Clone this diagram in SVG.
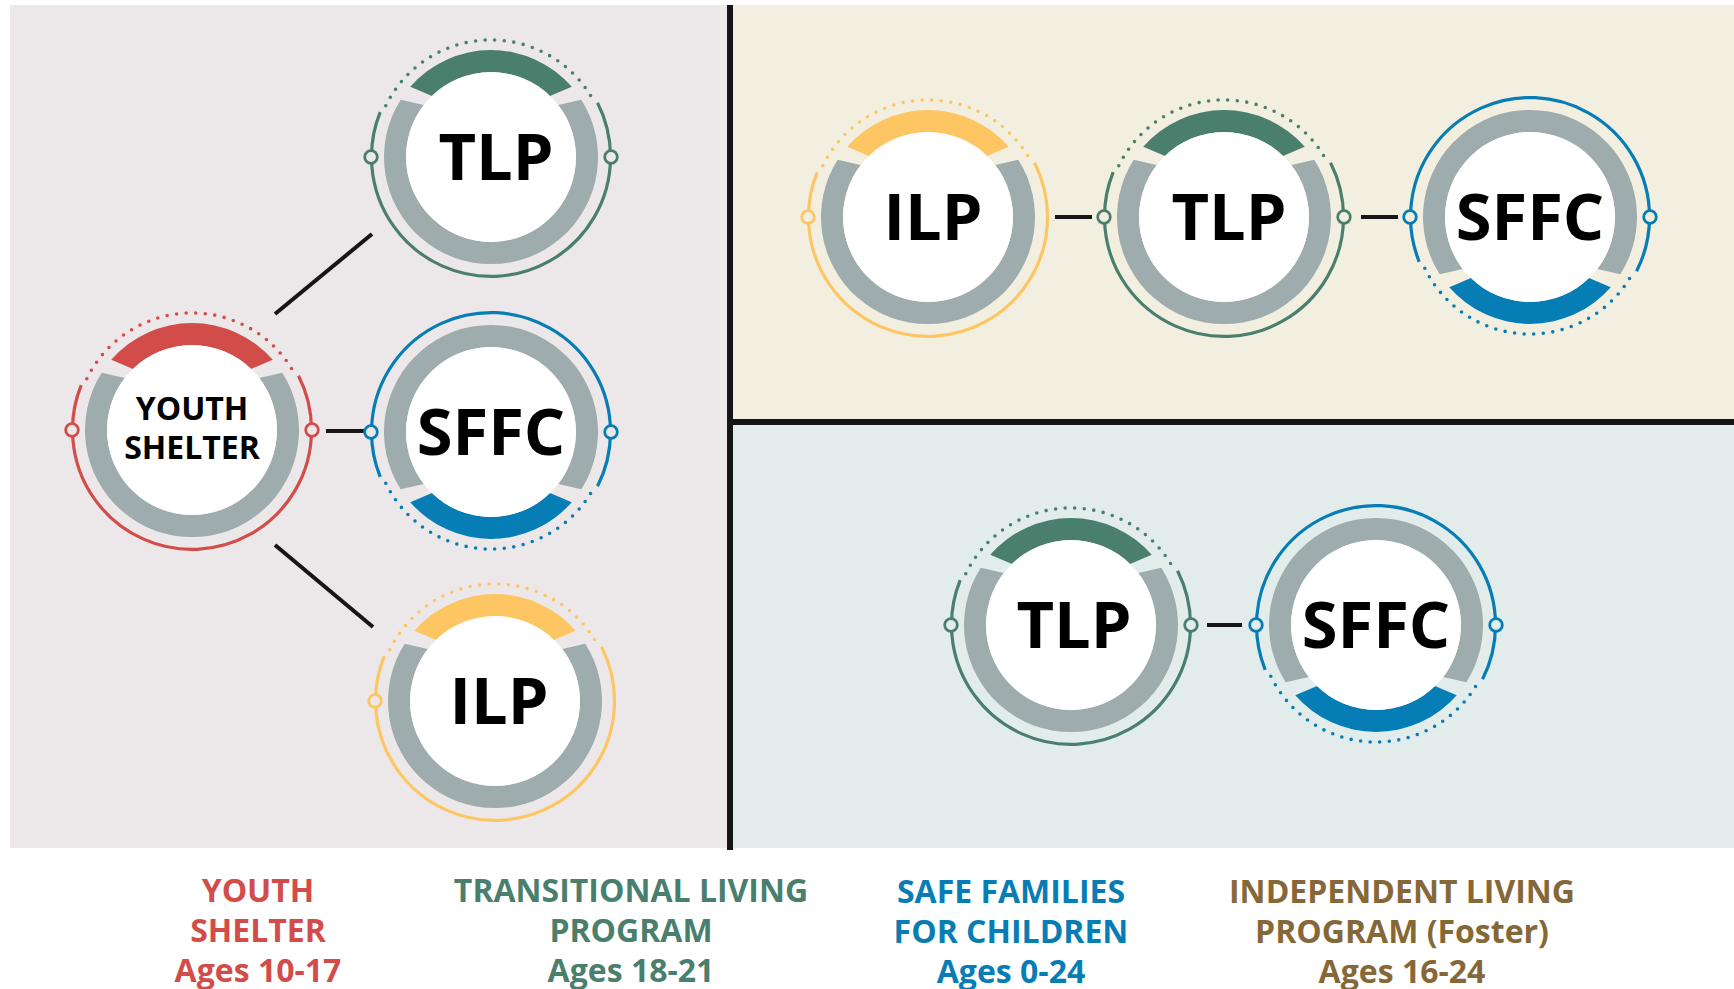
<svg xmlns="http://www.w3.org/2000/svg" xmlns:xlink="http://www.w3.org/1999/xlink" width="1734" height="989" viewBox="0 0 1734 989">
<style>
.gray{fill:#9EACAE}
.white{fill:#FFFFFF}
.solid{fill:none;stroke-width:3.2}
.dots{fill:none;stroke-width:3.6;stroke-linecap:round;stroke-dasharray:0 9.6}
.port{stroke-width:2.8}
.red{stroke:#D24D49}
.green{stroke:#4A7F6D}
.blue{stroke:#077DB5}
.yellow{stroke:#FDC663}
.fred{fill:#D24D49}
.fgreen{fill:#4A7F6D}
.fblue{fill:#077DB5}
.fyellow{fill:#FDC663}
.bgL{fill:#ECE8E9}
.bgT{fill:#F2EFE1}
.bgB{fill:#E2ECEB}
.node{font-family:"Open Sans","DejaVu Sans",sans-serif;font-weight:700;fill:#000;text-anchor:middle}
.big{font-size:65px}
.small{font-size:32px}
.conn line{stroke:#161616;stroke-width:4}
.lab{font-family:"Open Sans","DejaVu Sans",sans-serif;font-weight:700;font-size:32px;text-anchor:middle}
</style>
<defs>
<path id="arc" d="M -80.75 -70.2 A 107 107 0 0 1 80.75 -70.2 L 59 -61.1 A 85 85 0 0 0 -59 -61.1 Z"/>
<path id="grayArc" class="gray" d="M 90.3 -57.3 A 107 107 0 1 1 -90.3 -57.3 L -67.3 -52 A 85 85 0 1 0 67.3 -52 Z"/>
<circle id="core" class="white" r="85"/>
<path id="solidArc" d="M 106.5 -54.3 A 119.5 119.5 0 1 1 -110.8 -44.8"/>
<path id="dotArc" d="M -105.2 -51.3 A 117 117 0 0 1 100.3 -60.3"/>
</defs>

<g id="panels">
<rect x="10" y="5" width="717" height="843" fill="#ECE8E9"/>
<rect x="733" y="5" width="1001" height="414" fill="#F2EFE1"/>
<rect x="733" y="425" width="1001" height="423" fill="#E2ECEB"/>
<rect x="727" y="5" width="6" height="845" fill="#151515"/>
<rect x="727" y="419" width="1007" height="6" fill="#151515"/>
</g>

<g id="connectors" class="conn">
<line x1="275" y1="314" x2="372" y2="234"/>
<line x1="326" y1="431" x2="366" y2="431"/>
<line x1="275" y1="545" x2="373" y2="627"/>
<line x1="1055" y1="217" x2="1092" y2="217"/>
<line x1="1361" y1="217" x2="1398" y2="217"/>
<line x1="1207" y1="625" x2="1242" y2="625"/>
</g>

<g id="youth-shelter" transform="translate(192,430)">
<use href="#grayArc"/><use href="#arc" class="fred"/><use href="#core"/>
<use href="#solidArc" class="solid red"/><use href="#dotArc" class="dots red"/>
<circle cx="-120" cy="0" r="6.3" class="port red bgL"/><circle cx="120" cy="0" r="6.3" class="port red bgL"/>
<text class="node small" x="0" y="-10">YOUTH</text>
<text class="node small" x="0" y="29">SHELTER</text>
</g>

<g id="tlp-left" transform="translate(491,157)">
<use href="#grayArc"/><use href="#arc" class="fgreen"/><use href="#core"/>
<use href="#solidArc" class="solid green"/><use href="#dotArc" class="dots green"/>
<circle cx="-120" cy="0" r="6.3" class="port green bgL"/><circle cx="120" cy="0" r="6.3" class="port green bgL"/>
<text class="node big" x="5" y="23">TLP</text>
</g>

<g id="sffc-left" transform="translate(491,432)">
<g transform="scale(1,-1)">
<use href="#grayArc"/><use href="#arc" class="fblue"/><use href="#core"/>
<use href="#solidArc" class="solid blue"/><use href="#dotArc" class="dots blue"/>
</g>
<circle cx="-120" cy="0" r="6.3" class="port blue bgL"/><circle cx="120" cy="0" r="6.3" class="port blue bgL"/>
<text class="node big" x="0" y="23">SFFC</text>
</g>

<g id="ilp-left" transform="translate(495,701)">
<use href="#grayArc"/><use href="#arc" class="fyellow"/><use href="#core"/>
<use href="#solidArc" class="solid yellow"/><use href="#dotArc" class="dots yellow"/>
<circle cx="-120" cy="0" r="6.3" class="port yellow bgL"/>
<text class="node big" x="4" y="23">ILP</text>
</g>

<g id="ilp-top" transform="translate(928,217)">
<use href="#grayArc"/><use href="#arc" class="fyellow"/><use href="#core"/>
<use href="#solidArc" class="solid yellow"/><use href="#dotArc" class="dots yellow"/>
<circle cx="-120" cy="0" r="6.3" class="port yellow bgT"/>
<text class="node big" x="5" y="23">ILP</text>
</g>

<g id="tlp-top" transform="translate(1224,217)">
<use href="#grayArc"/><use href="#arc" class="fgreen"/><use href="#core"/>
<use href="#solidArc" class="solid green"/><use href="#dotArc" class="dots green"/>
<circle cx="-120" cy="0" r="6.3" class="port green bgT"/><circle cx="120" cy="0" r="6.3" class="port green bgT"/>
<text class="node big" x="5" y="23">TLP</text>
</g>

<g id="sffc-top" transform="translate(1530,217)">
<g transform="scale(1,-1)">
<use href="#grayArc"/><use href="#arc" class="fblue"/><use href="#core"/>
<use href="#solidArc" class="solid blue"/><use href="#dotArc" class="dots blue"/>
</g>
<circle cx="-120" cy="0" r="6.3" class="port blue bgT"/><circle cx="120" cy="0" r="6.3" class="port blue bgT"/>
<text class="node big" x="0" y="23">SFFC</text>
</g>

<g id="tlp-bottom" transform="translate(1071,625)">
<use href="#grayArc"/><use href="#arc" class="fgreen"/><use href="#core"/>
<use href="#solidArc" class="solid green"/><use href="#dotArc" class="dots green"/>
<circle cx="-120" cy="0" r="6.3" class="port green bgB"/><circle cx="120" cy="0" r="6.3" class="port green bgB"/>
<text class="node big" x="3" y="23">TLP</text>
</g>

<g id="sffc-bottom" transform="translate(1376,625)">
<g transform="scale(1,-1)">
<use href="#grayArc"/><use href="#arc" class="fblue"/><use href="#core"/>
<use href="#solidArc" class="solid blue"/><use href="#dotArc" class="dots blue"/>
</g>
<circle cx="-120" cy="0" r="6.3" class="port blue bgB"/><circle cx="120" cy="0" r="6.3" class="port blue bgB"/>
<text class="node big" x="0" y="23">SFFC</text>
</g>

<g id="legend">
<g id="legend-youth" class="lab" fill="#D24D49">
<text x="258" y="902">YOUTH</text>
<text x="258" y="942">SHELTER</text>
<text x="258" y="982">Ages 10-17</text>
</g>
<g id="legend-tlp" class="lab" fill="#4A7F6D">
<text x="631" y="902">TRANSITIONAL LIVING</text>
<text x="631" y="942">PROGRAM</text>
<text x="631" y="982">Ages 18-21</text>
</g>
<g id="legend-sffc" class="lab" fill="#077DB5">
<text x="1011" y="903">SAFE FAMILIES</text>
<text x="1011" y="943">FOR CHILDREN</text>
<text x="1011" y="983">Ages 0-24</text>
</g>
<g id="legend-ilp" class="lab" fill="#866838">
<text x="1402" y="903">INDEPENDENT LIVING</text>
<text x="1402" y="943">PROGRAM (Foster)</text>
<text x="1402" y="983">Ages 16-24</text>
</g>
</g>
</svg>
